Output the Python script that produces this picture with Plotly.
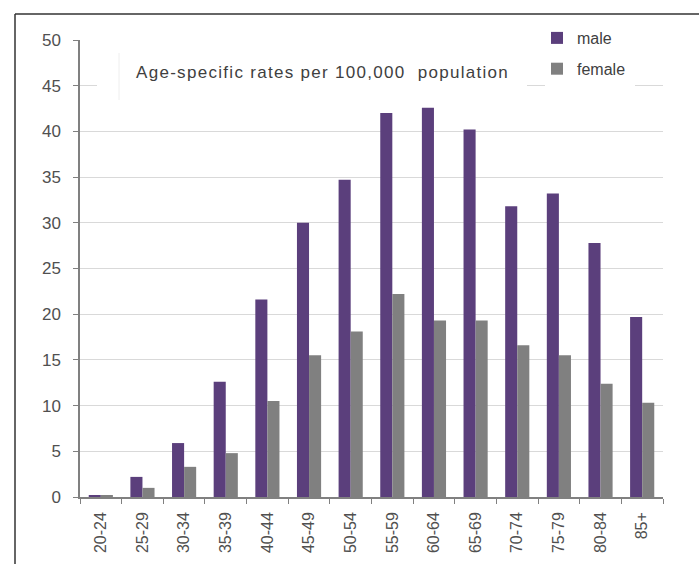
import plotly.graph_objects as go

categories = ["20-24", "25-29", "30-34", "35-39", "40-44", "45-49", "50-54",
              "55-59", "60-64", "65-69", "70-74", "75-79", "80-84", "85+"]
male = [0.2, 2.2, 5.9, 12.6, 21.6, 30.0, 34.7, 42.0, 42.6, 40.2, 31.8, 33.2, 27.8, 19.7]
female = [0.2, 1.0, 3.3, 4.8, 10.5, 15.5, 18.1, 22.2, 19.3, 19.3, 16.6, 15.5, 12.4, 10.3]
title_text = "Age-specific rates per 100,000  population"

MALE_C = "#5B3F7C"
FEMALE_C = "#808080"
FONT = "Liberation Sans, Arial, sans-serif"

fig = go.Figure()
fig.add_trace(go.Bar(x=categories, y=male, name="male", marker_color=MALE_C,
                     marker_line_width=0, legendgroup="m"))
fig.add_trace(go.Bar(x=categories, y=female, name="female", marker_color=FEMALE_C,
                     marker_line_width=0, legendgroup="f"))

W, H = 699, 564
L, R, T, B = 80, 36, 40, 67
pw, ph = W - L - R, H - T - B

def px(x):
    return (x - L) / pw

def py(y):
    return (H - B - y) / ph

shapes = [
    dict(type="rect", xref="paper", yref="paper", x0=px(97), x1=px(527),
         y0=py(100), y1=py(53), fillcolor="white", line_width=0, layer="above"),
    dict(type="line", xref="paper", yref="paper", x0=px(119), x1=px(119),
         y0=py(100), y1=py(53), line=dict(color="#eeeeee", width=1), layer="above"),
    dict(type="rect", xref="paper", yref="paper", x0=px(545), x1=px(635),
         y0=py(92), y1=py(27), fillcolor="white", line_width=0, layer="above"),
    dict(type="line", xref="paper", yref="paper", x0=px(15), x1=px(699),
         y0=py(14), y1=py(14), line=dict(color="#333333", width=1.5), layer="above"),
    dict(type="line", xref="paper", yref="paper", x0=px(15), x1=px(15),
         y0=py(14), y1=py(564), line=dict(color="#333333", width=1.5), layer="above"),
]

fig.update_layout(
    width=W, height=H,
    margin=dict(l=L, r=R, t=T, b=B, pad=0),
    paper_bgcolor="white", plot_bgcolor="white",
    barmode="group", bargap=0.42, bargroupgap=0,
    font=dict(family=FONT, color="#505050", size=15),
    showlegend=True,
    legend=dict(x=px(537), y=py(21), xanchor="left", yanchor="top",
                font=dict(size=16, color="#404040", family=FONT),
                bgcolor="rgba(0,0,0,0)", itemwidth=30,
                traceorder="grouped", tracegroupgap=7,
                itemclick=False),
    shapes=shapes,
    annotations=[dict(text='<span style="letter-spacing:1.3px">' + title_text + '</span>',
                      xref="paper", yref="paper",
                      x=px(134), y=py(72), xanchor="left", yanchor="middle",
                      showarrow=False, font=dict(size=17, color="#404040", family=FONT))],
)

fig.update_yaxes(range=[0, 50], dtick=5, tick0=0, showgrid=True, gridcolor="#d9d9d9",
                 gridwidth=1, showline=True, linecolor="#808080", linewidth=1.5,
                 ticks="outside", ticklen=5, tickcolor="#808080", ticklabelstandoff=9,
                 tickfont=dict(size=17, color="#505050", family=FONT), zeroline=False,
                 fixedrange=True)
fig.update_xaxes(showgrid=False, showline=True, linecolor="#808080", linewidth=1.5,
                 ticks="outside", ticklen=5, tickcolor="#808080", tickson="boundaries",
                 ticklabelstandoff=7,
                 tickangle=-90, tickfont=dict(size=16, color="#505050", family=FONT),
                 fixedrange=True)

fig.write_html("out.html")
